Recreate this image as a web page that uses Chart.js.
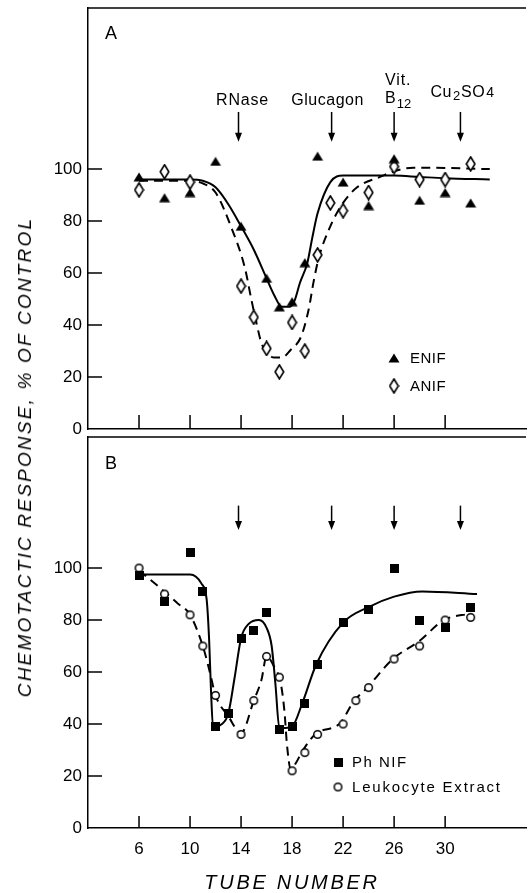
<!DOCTYPE html>
<html lang="en">
<head>
<meta charset="UTF-8">
<meta name="viewport" content="width=device-width, initial-scale=1.0">
<title>Chemotactic response by tube number</title>
<script src="https://cdn.jsdelivr.net/npm/chart.js"></script>
<style>
  body { margin: 0; background: #fff; }
  #page { position: relative; width: 531px; height: 893px; overflow: hidden; font-family: "Liberation Sans", Arial, sans-serif; color: #000; }
  #chartA { position: absolute; left: 0; top: 0; }
  #chartB { position: absolute; left: 0; top: 432px; }
  .ytitle { position: absolute; left: 25px; top: 457px; transform: translate(-50%, -50%) rotate(-90deg);
            white-space: nowrap; font-style: italic; font-size: 19px; letter-spacing: 2.2px; }
  .xtitle { position: absolute; left: 292px; top: 882px; transform: translate(-50%, -50%);
            white-space: nowrap; font-style: italic; font-size: 20px; letter-spacing: 2.7px; }
</style>
</head>
<body>
<div id="page">
  <canvas id="chartA" width="531" height="450"></canvas>
  <canvas id="chartB" width="531" height="461"></canvas>
  <div class="ytitle">CHEMOTACTIC RESPONSE, % OF CONTROL</div>
  <div class="xtitle">TUBE NUMBER</div>
</div>
<script>
// axis ticks
const tickTubes = [6, 10, 14, 18, 22, 26, 30];
const tickValues = [0, 20, 40, 60, 80, 100];

// marker arrows (tube where each standard elutes)
const arrowTubes = [13.8, 21.1, 26, 31.2];

// panel A - measured points
const enifTubes  = [6, 8, 10, 12, 14, 16, 17, 18, 19, 20, 22, 24, 26, 28, 30, 32];
const enifValues = [97, 89, 91, 103, 78, 58, 47, 49, 64, 105, 95, 86, 104, 88, 91, 87];
const anifTubes  = [6, 8, 10, 14, 15, 16, 17, 18, 19, 20, 21, 22, 24, 26, 28, 30, 32];
const anifValues = [92, 99, 95, 55, 43, 31, 22, 41, 30, 67, 87, 84, 91, 101, 96, 96, 102];

// panel A - hand drawn curves
const enifFitTubes  = [6, 8, 10, 11, 12, 13, 14, 15, 16, 16.6, 17.2, 17.8, 18.2, 18.6, 19.2, 19.6, 20, 21, 22, 24, 26, 28, 30, 33.5];
const enifFitValues = [96, 96, 96, 95.5, 93, 86.5, 78, 69, 58, 51.5, 47, 47, 49.5, 56, 64, 74, 83, 95, 97.5, 97.5, 97.5, 97, 96.5, 96];
const anifFitTubes  = [6, 8, 10, 11, 12, 13.2, 14.3, 14.8, 15.2, 15.6, 16.1, 16.6, 17.2, 17.9, 18.7, 19.3, 19.7, 20.1, 21, 22, 23.1, 24.9, 26.2, 27.5, 29, 33.5];
const anifFitValues = [95.5, 95.5, 95.5, 94.5, 91, 78, 62, 50, 41, 33, 29, 27.5, 27.5, 30.5, 35.5, 46, 57, 66, 78, 87, 93, 97, 99.5, 100.5, 100.5, 100];

// panel B - measured points
const phTubes    = [6, 8, 10, 11, 12, 13, 14, 15, 16, 17, 18, 19, 20, 22, 24, 26, 28, 30, 32];
const phValues   = [97, 87, 106, 91, 39, 44, 73, 76, 83, 38, 39, 48, 63, 79, 84, 100, 80, 77, 85];
const leukTubes  = [6, 8, 10, 11, 12, 14, 15, 16, 17, 18, 19, 20, 22, 23, 24, 26, 28, 30, 32];
const leukValues = [100, 90, 82, 70, 51, 36, 49, 66, 58, 22, 29, 36, 40, 49, 54, 65, 70, 80, 81];

// panel B - hand drawn curves
const phFitTubes  = [6, 8, 10, 10.9, 11.3, 11.5, 11.65, 11.8, 12.5, 13, 13.5, 14, 14.6, 15.4, 16, 16.4, 16.7, 17, 17.5, 18, 18.8, 19.9, 22, 24, 26, 28.2, 32.5];
const phFitValues = [97.5, 97.5, 97.5, 94, 88, 72, 52, 39, 40, 44, 58, 73, 78.5, 80, 77, 70, 55, 38.5, 38.5, 39, 48, 63, 79, 85, 89, 91, 90];
const leukFitTubes  = [6, 7.5, 9, 10, 11, 11.5, 12, 13, 14, 15, 15.6, 16, 16.6, 17.1, 17.4, 17.6, 17.9, 18.3, 18.8, 19.8, 21.8, 22.8, 23.8, 25.9, 28, 29.9, 32];
const leukFitValues = [99, 93, 86.5, 82, 70, 61, 51, 43, 36.5, 49, 57, 66, 62, 56, 45, 32, 22.5, 25, 29.5, 36, 40.5, 48.5, 53.5, 65, 72, 80, 82.5];

const FONT = '"Liberation Sans", Arial, sans-serif';
const pts = (xs, ys) => xs.map((x, i) => ({ x: x, y: ys[i] }));

// point symbols drawn on small canvases
function symbol(w, h, draw) {
  const c = document.createElement('canvas');
  c.width = w; c.height = h;
  const g = c.getContext('2d');
  g.fillStyle = '#000'; g.strokeStyle = '#000';
  draw(g);
  return c;
}
const triangleImg = symbol(12, 10, g => {
  g.beginPath(); g.moveTo(6, 0.5); g.lineTo(11.5, 9.5); g.lineTo(0.5, 9.5); g.closePath(); g.fill();
});
const diamondImg = symbol(11, 16, g => {
  g.lineWidth = 1.6; g.fillStyle = '#fff';
  g.beginPath(); g.moveTo(5.5, 1); g.lineTo(9.8, 8); g.lineTo(5.5, 15); g.lineTo(1.2, 8); g.closePath();
  g.fill(); g.stroke();
});
const squareImg = symbol(9, 9, g => { g.fillRect(0, 0, 9, 9); });
const circleImg = symbol(11, 11, g => {
  g.lineWidth = 1.5; g.fillStyle = '#fff';
  g.beginPath(); g.arc(5.5, 5.5, 3.8, 0, Math.PI * 2); g.fill(); g.stroke();
});

function markers(data, img) {
  return { data: data, showLine: false, pointStyle: img, pointRadius: 5, borderWidth: 0 };
}
function curve(data, dashed) {
  return { data: data, borderColor: '#000', borderWidth: 2, borderDash: dashed ? [9, 6] : [],
           pointRadius: 0, cubicInterpolationMode: 'monotone', fill: false };
}

// draws text and returns the x where the next piece starts
function text(ctx, s, x, y, size, spacing, align) {
  ctx.font = size + 'px ' + FONT;
  ctx.textAlign = align || 'left';
  if ('letterSpacing' in ctx) ctx.letterSpacing = (spacing || 0) + 'px';
  ctx.fillText(s, x, y);
  const w = ctx.measureText(s).width;
  if ('letterSpacing' in ctx) ctx.letterSpacing = '0px';
  return x + w;
}

function decor(cfg) {
  return {
    id: 'decor',
    afterDraw(chart) {
      const { ctx, chartArea: a, scales: { x, y } } = chart;
      ctx.save();
      ctx.strokeStyle = '#000'; ctx.fillStyle = '#000'; ctx.lineWidth = 1.5;
      // frame top
      ctx.beginPath(); ctx.moveTo(a.left, a.top); ctx.lineTo(a.right, a.top); ctx.stroke();
      // ticks pointing inward
      ctx.beginPath();
      tickTubes.forEach(t => {
        const px = x.getPixelForValue(t);
        ctx.moveTo(px, a.bottom); ctx.lineTo(px, a.bottom - cfg.xTickLen);
      });
      tickValues.slice(1).forEach(v => {
        const py = y.getPixelForValue(v);
        ctx.moveTo(a.left, py); ctx.lineTo(a.left + 14, py);
      });
      ctx.stroke();
      // arrows
      arrowTubes.forEach(t => {
        const px = x.getPixelForValue(t);
        const y0 = y.getPixelForValue(cfg.arrowFrom), y1 = y.getPixelForValue(cfg.arrowTo);
        ctx.beginPath(); ctx.moveTo(px, y0); ctx.lineTo(px, y1 - 6); ctx.stroke();
        ctx.beginPath(); ctx.moveTo(px - 3.5, y1 - 9); ctx.lineTo(px + 3.5, y1 - 9); ctx.lineTo(px, y1);
        ctx.closePath(); ctx.fill();
      });
      ctx.textBaseline = 'alphabetic';
      if (cfg.arrowLabels) {
        const top = y.getPixelForValue(cfg.arrowFrom);
        const ax = arrowTubes.map(t => x.getPixelForValue(t));
        text(ctx, 'RNase', ax[0] + 4, top - 7, 16, 0.8, 'center');
        text(ctx, 'Glucagon', ax[1] - 4, top - 7, 16, 0.5, 'center');
        text(ctx, 'Vit.', ax[2] + 4, top - 27, 16, 0.8, 'center');
        let cx = text(ctx, 'B', ax[2] - 9, top - 9, 16, 0, 'left');
        text(ctx, '12', cx + 1, top - 4, 13, 0, 'left');
        cx = text(ctx, 'Cu', ax[3] - 30, top - 15, 16, 0.5, 'left');
        cx = text(ctx, '2', cx + 1, top - 12, 13, 0, 'left');
        cx = text(ctx, 'SO', cx + 1, top - 15, 16, 0.5, 'left');
        text(ctx, '4', cx + 1, top - 15, 14, 0, 'left');
      }
      // panel letter
      ctx.textBaseline = 'middle';
      text(ctx, cfg.letter, a.left + 23, a.top + cfg.letterDy, 18, 0, 'center');
      // legend
      cfg.legend.forEach(item => {
        const img = item.img;
        ctx.drawImage(img, item.mx - img.width / 2, item.y - img.height / 2);
        text(ctx, item.label, item.tx, item.y + 1, item.size, item.spacing, 'left');
      });
      ctx.restore();
    }
  };
}

function noPad(s) {
  s.paddingTop = 0; s.paddingBottom = 0; s.paddingLeft = 0; s.paddingRight = 0;
}

function panel(id, cfg) {
  return new Chart(document.getElementById(id), {
    type: 'line',
    data: { datasets: cfg.datasets },
    options: {
      responsive: false,
      animation: false,
      events: [],
      layout: { padding: { top: cfg.padTop, right: 0, bottom: 0, left: 0 } },
      plugins: { legend: { display: false }, tooltip: { enabled: false } },
      scales: {
        x: {
          type: 'linear', min: 2, max: 36.34,
          afterBuildTicks: s => { s.ticks = tickTubes.map(v => ({ value: v })); },
          afterFit: s => { s.height = cfg.xHeight; noPad(s); },
          grid: { display: false, drawTicks: false },
          border: { display: true, color: '#000', width: 1.5 },
          ticks: { display: cfg.xLabels, color: '#000', padding: 11, font: { family: FONT, size: 17 } }
        },
        y: {
          min: 0, max: cfg.yMax,
          afterBuildTicks: s => { s.ticks = tickValues.map(v => ({ value: v })); },
          afterFit: s => { s.width = 88; noPad(s); },
          grid: { display: false, drawTicks: false },
          border: { display: true, color: '#000', width: 1.5 },
          ticks: { color: '#000', padding: 6, font: { family: FONT, size: 17 } }
        }
      }
    },
    plugins: [decor(cfg)]
  });
}

panel('chartA', {
  padTop: 8, xHeight: 21, yMax: 162, xLabels: false, xTickLen: 14,
  arrowFrom: 122, arrowTo: 110.5, arrowLabels: true, letter: 'A', letterDy: 26,
  legend: [
    { img: triangleImg, label: 'ENIF', mx: 394, tx: 410, y: 358, size: 15, spacing: 0.5 },
    { img: diamondImg, label: 'ANIF', mx: 394, tx: 410, y: 386, size: 15, spacing: 0.5 }
  ],
  datasets: [
    markers(pts(enifTubes, enifValues), triangleImg),
    markers(pts(anifTubes, anifValues), diamondImg),
    curve(pts(enifFitTubes, enifFitValues), false),
    curve(pts(anifFitTubes, anifFitValues), true)
  ]
});

panel('chartB', {
  padTop: 1, xHeight: 65, yMax: 150.4, xLabels: true, xTickLen: 12,
  arrowFrom: 124, arrowTo: 114.6, arrowLabels: false, letter: 'B', letterDy: 27,
  legend: [
    { img: squareImg, label: 'Ph NIF', mx: 338, tx: 352, y: 330, size: 15, spacing: 1.5 },
    { img: circleImg, label: 'Leukocyte Extract', mx: 338, tx: 352, y: 355, size: 15, spacing: 1.8 }
  ],
  datasets: [
    markers(pts(phTubes, phValues), squareImg),
    markers(pts(leukTubes, leukValues), circleImg),
    curve(pts(phFitTubes, phFitValues), false),
    curve(pts(leukFitTubes, leukFitValues), true)
  ]
});
</script>
</body>
</html>
